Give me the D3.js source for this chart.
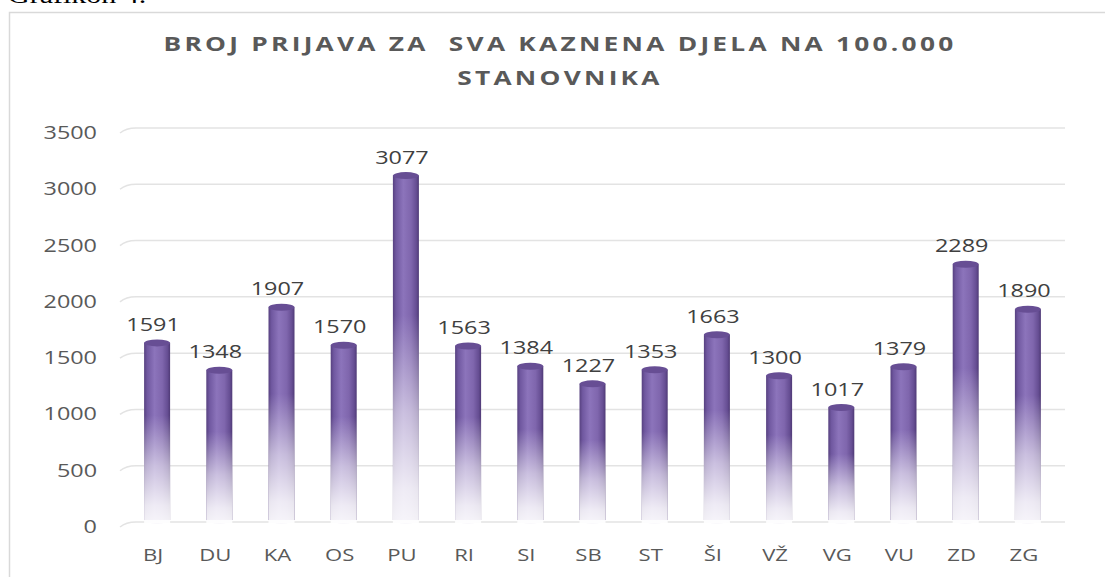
<!DOCTYPE html>
<html>
<head>
<meta charset="utf-8">
<script src="https://cdn.jsdelivr.net/npm/d3@7"></script>
<style>
  html, body { margin: 0; padding: 0; background: #ffffff; }
  svg { display: block; }
  text { white-space: pre; }
</style>
</head>
<body>
<svg id="chart" width="1105" height="577"></svg>
<script>
// Prijave kaznenih djela na 100.000 stanovnika po županijama
const categories = ["BJ", "DU", "KA", "OS", "PU", "RI", "SI", "SB", "ST", "ŠI", "VŽ", "VG", "VU", "ZD", "ZG"];
const values = [1591, 1348, 1907, 1570, 3077, 1563, 1384, 1227, 1353, 1663, 1300, 1017, 1379, 2289, 1890];
const yTicks = [0, 500, 1000, 1500, 2000, 2500, 3000, 3500];
const titleLines = ["BROJ PRIJAVA ZA  SVA KAZNENA DJELA NA 100.000", "STANOVNIKA"];
const caption = "Grafikon 4.";

const svg = d3.select("#chart");
const FONT = "'Open Sans', 'DejaVu Sans', sans-serif";
const SX = 1.3; // horizontal text stretch

const x = d3.scaleBand().domain(categories).range([122, 1055]).paddingInner(0).paddingOuter(0);
const y = d3.scaleLinear().domain([0, 3500]).range([522, 128]);
const barW = 26;
const depth = 4; // bars sit slightly right of their labels (3D depth)

// stretched text helper
function stext(g, tx, ty, str, opts) {
  return g.append("text")
    .attr("xml:space", "preserve")
    .attr("transform", `translate(${tx},${ty}) scale(${opts.sx || SX},1)`)
    .attr("text-anchor", opts.anchor || "middle")
    .attr("font-family", opts.family || FONT)
    .attr("font-size", opts.size)
    .attr("font-weight", opts.weight || "normal")
    .attr("letter-spacing", opts.ls || 0)
    .attr("fill", opts.fill || "#595959")
    .text(str);
}

// caption above the chart frame
stext(svg, 8, 3, caption, { anchor: "start", family: "'Liberation Serif', 'DejaVu Serif', serif", size: 24, fill: "#000", sx: 1.25 });

// chart frame
svg.append("rect").attr("x", 9.5).attr("y", 12.5).attr("width", 1120).attr("height", 600)
  .attr("fill", "none").attr("stroke", "#d9d9d9").attr("stroke-width", 1.5);

// gradients
const defs = svg.append("defs");
const hg = defs.append("linearGradient").attr("id", "barBody").attr("x1", 0).attr("x2", 1).attr("y1", 0).attr("y2", 0);
[[0, "#574180"], [0.12, "#7058a0"], [0.4, "#8c74bb"], [0.7, "#7f66ad"], [0.9, "#664e93"], [1, "#4f3a76"]]
  .forEach(([o, c]) => hg.append("stop").attr("offset", o).attr("stop-color", c));
const vg = defs.append("linearGradient").attr("id", "barFade").attr("x1", 0).attr("x2", 0).attr("y1", 0).attr("y2", 1);
[[0, 0], [0.4, 0], [0.68, 0.55], [0.9, 0.86], [1, 0.93]]
  .forEach(([o, a]) => vg.append("stop").attr("offset", o).attr("stop-color", "#ffffff").attr("stop-opacity", a));

// gridlines with a short perspective bend at the left
const grid = svg.append("g");
yTicks.forEach(t => {
  const gy = y(t);
  grid.append("path")
    .attr("d", `M120,${gy + 5} Q126,${gy} 136,${gy} L1065,${gy}`)
    .attr("fill", "none").attr("stroke", "#e3e3e3").attr("stroke-width", 1.5);
});

// y tick labels
const yAxis = svg.append("g");
yTicks.forEach(t => {
  stext(yAxis, 97, y(t) + 11, d3.format("d")(t), { anchor: "end", size: 18 });
});

// bars
const bars = svg.append("g").selectAll("g").data(categories).join("g");
bars.each(function (c, i) {
  const g = d3.select(this);
  const cx = x(c) + x.bandwidth() / 2 + depth;
  const top = y(values[i]);
  const bottom = y(0) - 2;
  g.append("ellipse").attr("cx", cx).attr("cy", bottom).attr("rx", barW / 2).attr("ry", 3.5).attr("fill", "#ebe6f3");
  g.append("rect").attr("x", cx - barW / 2).attr("y", top).attr("width", barW).attr("height", bottom - top)
    .attr("fill", "url(#barBody)");
  g.append("rect").attr("x", cx - barW / 2).attr("y", top).attr("width", barW).attr("height", bottom - top + 3.5)
    .attr("fill", "url(#barFade)");
  g.append("ellipse").attr("cx", cx).attr("cy", top).attr("rx", barW / 2).attr("ry", 3.5).attr("fill", "#674e94");
});

// data labels
const labels = svg.append("g");
categories.forEach((c, i) => {
  stext(labels, x(c) + x.bandwidth() / 2, y(values[i]) - 12, String(values[i]), { size: 18, fill: "#404040" });
});

// category labels
const xAxis = svg.append("g");
categories.forEach(c => {
  stext(xAxis, x(c) + x.bandwidth() / 2, 561, c, { size: 17 });
});

// title
titleLines.forEach((line, i) => {
  stext(svg, 560, 51 + i * 34, line, { size: 19.5, weight: "bold", ls: 2.4, fill: "#595959", sx: 1.35 });
});
</script>
</body>
</html>
